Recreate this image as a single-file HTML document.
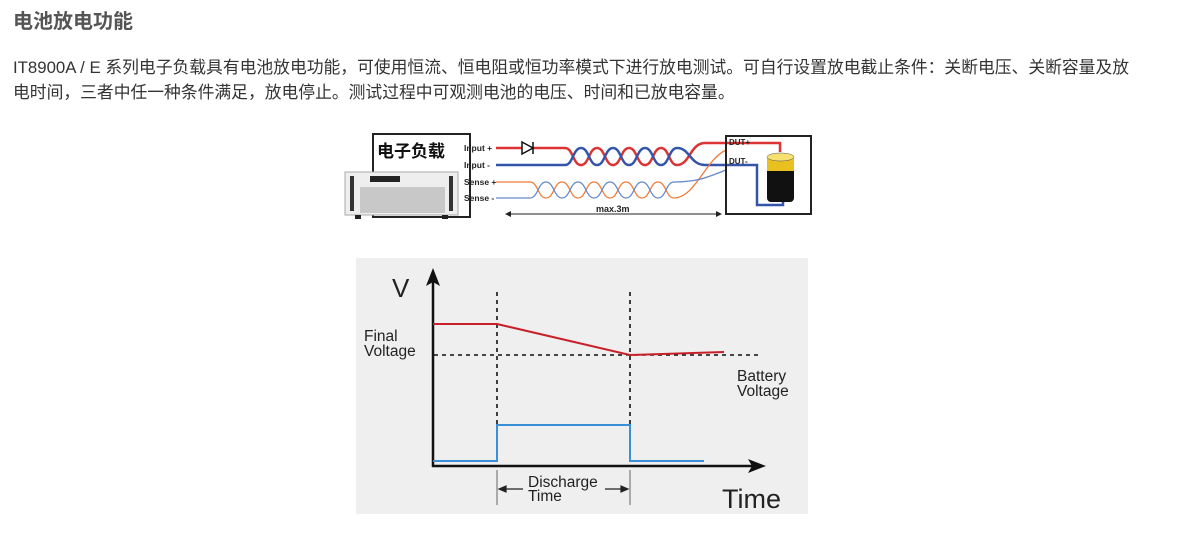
<!DOCTYPE html>
<html><head><meta charset="utf-8"><style>
body{margin:0;width:1200px;height:545px;background:#fff;overflow:hidden;font-family:"Liberation Sans","Noto Sans CJK SC",sans-serif;}
h1{position:absolute;left:13px;top:5px;margin:0;font-size:20px;font-weight:bold;color:#555;}
p{position:absolute;left:13px;top:55px;margin:0;font-size:16.8px;line-height:25px;color:#333;width:1180px;white-space:nowrap;}
svg{position:absolute;left:0;top:0;}
</style></head><body>
<h1>电池放电功能</h1>
<p>IT8900A / E 系列电子负载具有电池放电功能，可使用恒流、恒电阻或恒功率模式下进行放电测试。可自行设置放电截止条件：关断电压、关断容量及放<br>电时间，三者中任一种条件满足，放电停止。测试过程中可观测电池的电压、时间和已放电容量。</p>
<svg width="1200" height="545" viewBox="0 0 1200 545">
<rect x="373" y="134" width="97" height="83" fill="#fff" stroke="#222" stroke-width="2"/>
<text x="377" y="157" font-size="17" font-weight="bold" font-family="Noto Sans CJK SC,sans-serif" fill="#111">电子负载</text>
<g font-size="8.5" font-weight="bold" fill="#222" font-family="Liberation Sans,sans-serif">
<text x="464" y="151">Input +</text><text x="464" y="168">Input -</text>
<text x="464" y="185">Sense +</text><text x="464" y="201">Sense -</text></g>
<rect x="345" y="172" width="113" height="43" fill="#eee" stroke="#aaa"/>
<rect x="350" y="176" width="4" height="35" fill="#333"/><rect x="449" y="176" width="4" height="35" fill="#333"/>
<rect x="370" y="176" width="30" height="6" fill="#222"/>
<rect x="360" y="187" width="85" height="26" fill="#c8c8c8"/>
<rect x="355" y="215" width="6" height="4" fill="#222"/><rect x="442" y="215" width="6" height="4" fill="#222"/>
<path d="M496,148 L565,148" stroke="#d33" stroke-width="2.5" fill="none"/>
<path d="M533,142 L533,154 M533,148 L522,142 L522,154 Z" stroke="#111" stroke-width="1.5" fill="#fff"/>
<path d="M565,148 C573,148 573,165 581,165 S589,148 597,148 S605,165 613,165 S621,148 629,148 S637,165 645,165 S653,148 661,148 S669,165 677,165 C690,165 690,143 705,143 L780,143 L780,152" stroke="#d33" stroke-width="2.5" fill="none"/>
<path d="M496,165 L565,165 C573,165 573,148 581,148 S589,165 597,165 S605,148 613,148 S621,165 629,165 S637,148 645,148 S653,165 661,165 S669,148 677,148 C690,148 690,165 705,165 L757,165 L757,205 L783,205 L783,198" stroke="#3355aa" stroke-width="2.5" fill="none"/>
<path d="M496,182 L530,182 C538,182 538,198 546,198 S554,182 562,182 S570,198 578,198 S586,182 594,182 S602,198 610,198 S618,182 626,182 S634,198 642,198 S650,182 658,182 S666,198 674,198 C695,198 705,160 726,150" stroke="#f07a3a" stroke-width="1.3" fill="none"/>
<path d="M496,198 L530,198 C538,198 538,182 546,182 S554,198 562,198 S570,182 578,182 S586,198 594,198 S602,182 610,182 S618,198 626,198 S634,182 642,182 S650,198 658,198 S666,182 674,182 C700,182 710,176 726,170" stroke="#6688cc" stroke-width="1.3" fill="none"/>
<rect x="726" y="136" width="85" height="78" fill="none" stroke="#222" stroke-width="2"/>
<text x="729" y="145" font-size="8" font-weight="bold" fill="#222">DUT+</text>
<text x="729" y="164" font-size="8" font-weight="bold" fill="#222">DUT-</text>
<rect x="767" y="157" width="27" height="45" rx="4" fill="#111"/>
<rect x="767" y="157" width="27" height="14" fill="#e8c020"/>
<ellipse cx="780.5" cy="157" rx="13.5" ry="4" fill="#f5e070" stroke="#555" stroke-width="0.5"/>
<line x1="507" y1="214" x2="720" y2="214" stroke="#222" stroke-width="1"/>
<path d="M505,214 l6,-3 v6z M722,214 l-6,-3 v6z" fill="#222"/>
<text x="596" y="212" font-size="9" font-weight="bold" fill="#222">max.3m</text>
<rect x="356" y="258" width="452" height="256" fill="#efefef"/>
<line x1="433" y1="280" x2="433" y2="467" stroke="#111" stroke-width="2.5"/>
<path d="M433,268 L426,286 L433,282 L440,286 Z" fill="#111"/>
<line x1="432" y1="466" x2="755" y2="466" stroke="#111" stroke-width="2.5"/>
<path d="M766,466 L748,459 L752,466 L748,473 Z" fill="#111"/>
<g stroke="#111" stroke-width="1.6" stroke-dasharray="4,4">
<line x1="497" y1="292" x2="497" y2="460"/><line x1="630" y1="292" x2="630" y2="460"/>
<line x1="434" y1="355" x2="760" y2="355"/></g>
<g stroke="#666" stroke-width="1"><line x1="497" y1="470" x2="497" y2="505"/><line x1="630" y1="470" x2="630" y2="505"/></g>
<polyline points="433,324 497,324 630,355 724,352" fill="none" stroke="#c8202a" stroke-width="2"/>
<polyline points="433,461 497,461 497,425 630,425 630,461 704,461" fill="none" stroke="#3a8fd8" stroke-width="2"/>
<g fill="#222" font-family="Liberation Sans,sans-serif">
<text x="392" y="297" font-size="26">V</text>
<text x="364" y="341" font-size="15.5">Final</text><text x="364" y="356" font-size="15.5">Voltage</text>
<text x="737" y="381" font-size="15.5">Battery</text><text x="737" y="396" font-size="15.5">Voltage</text>
<text x="528" y="487" font-size="15.5">Discharge</text><text x="528" y="501" font-size="15.5">Time</text>
<text x="722" y="508" font-size="27">Time</text></g>
<g stroke="#222" stroke-width="1.2" fill="#222">
<line x1="500" y1="489" x2="523" y2="489"/><path d="M499,489 l7,-3 v6z"/>
<line x1="605" y1="489" x2="626" y2="489"/><path d="M628,489 l-7,-3 v6z"/></g>
</svg>
</body></html>
